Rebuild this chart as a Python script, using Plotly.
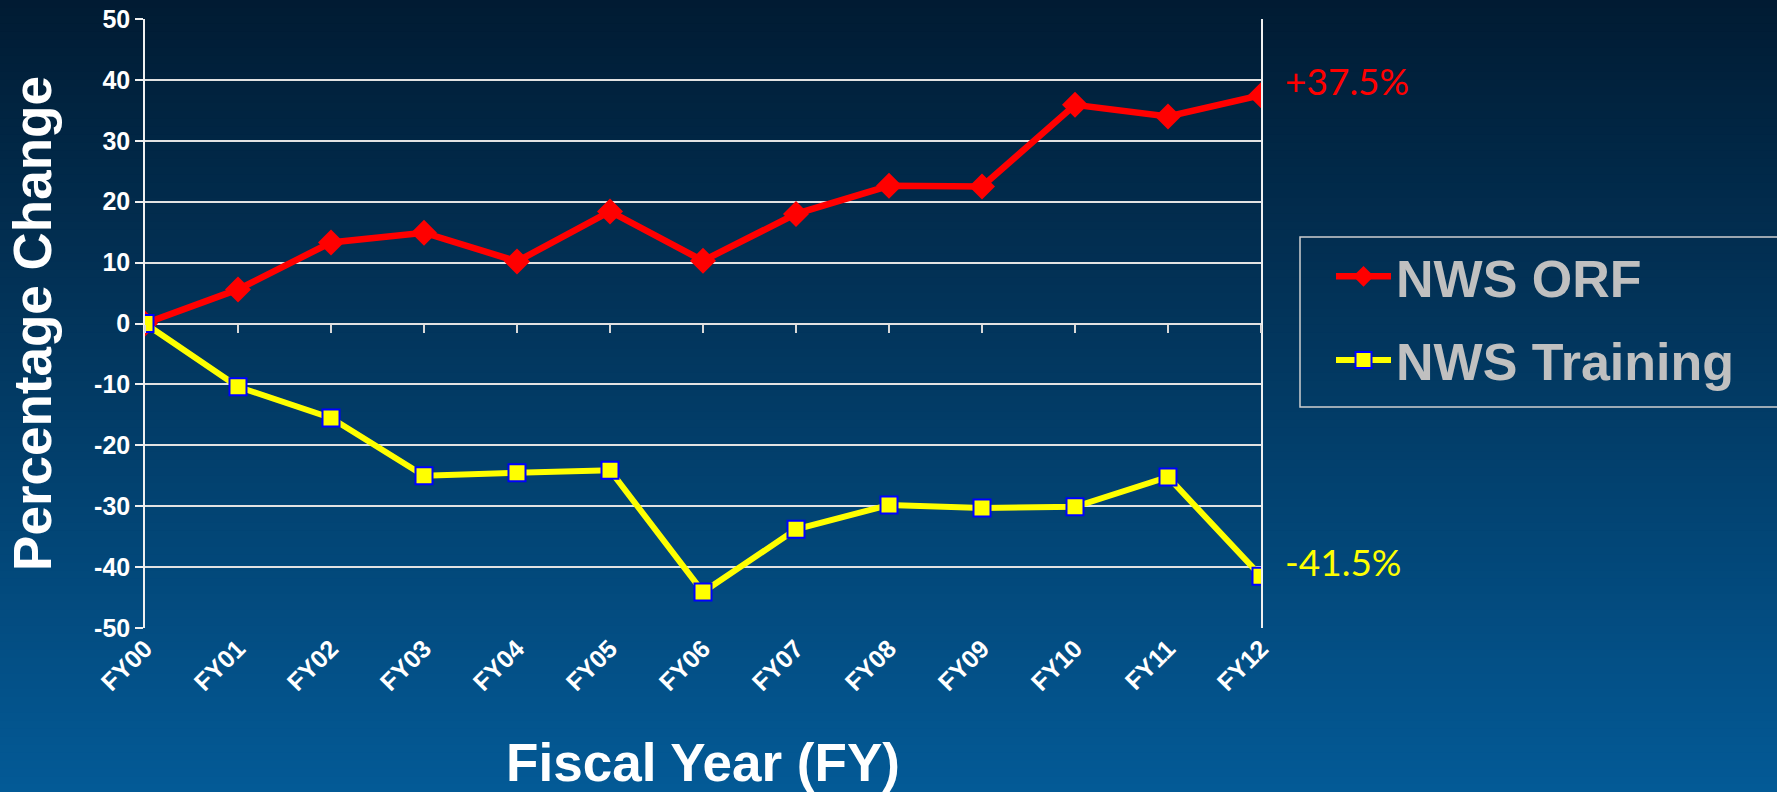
import plotly.graph_objects as go

# ---- data ----
fiscal_years = ["FY00", "FY01", "FY02", "FY03", "FY04", "FY05", "FY06",
                "FY07", "FY08", "FY09", "FY10", "FY11", "FY12"]
nws_orf = [0, 5.6, 13.3, 14.9, 10.2, 18.4, 10.3, 18.0, 22.6, 22.5, 35.9, 34.0, 37.5]
nws_training = [0, -10.4, -15.5, -25.0, -24.5, -24.1, -44.1, -33.8, -29.8, -30.3, -30.1, -25.2, -41.5]
y_ticks = [50, 40, 30, 20, 10, 0, -10, -20, -30, -40, -50]
series_names = ["NWS ORF", "NWS Training"]
end_labels = ["+37.5%", "-41.5%"]

W, H = 1777, 792
ML, MR, MT, MB = 145, W - 1261, 19, H - 628
PW, PH = W - ML - MR, H - MT - MB


def px_x(p):
    return (p - ML) / PW


def px_y(p):
    return (H - MB - p) / PH


fig = go.Figure()

fig.add_trace(go.Scatter(
    x=fiscal_years, y=nws_orf, name=series_names[0], mode="lines+markers",
    legendgroup="a",
    line=dict(color="#ff0000", width=6.5),
    marker=dict(symbol="diamond", size=20, color="#ff0000", line=dict(width=0)),
    xaxis="x", yaxis="y",
))
fig.add_trace(go.Scatter(
    x=fiscal_years, y=nws_training, name=series_names[1], mode="lines+markers",
    legendgroup="b",
    line=dict(color="#ffff00", width=6),
    marker=dict(symbol="square", size=17, color="#ffff00", line=dict(width=2, color="#0000ff")),
    xaxis="x2", yaxis="y",
))

# ---- background gradient (figure-wide) ----
top = (1, 27, 51)
bot = (3, 90, 150)
n = 100
shapes = []
for i in range(n):
    f0 = i / n
    f1 = (i + 1) / n
    py0 = f0 * H
    py1 = f1 * H + 1
    c = tuple(round(top[k] + (bot[k] - top[k]) * (f0 + 0.5 / n)) for k in range(3))
    shapes.append(dict(
        type="rect", xref="paper", yref="paper", layer="below",
        x0=px_x(-5), x1=px_x(W + 5),
        y0=px_y(py1), y1=px_y(py0),
        fillcolor="rgb(%d,%d,%d)" % c, line=dict(width=0),
    ))

# legend frame
shapes.append(dict(
    type="rect", xref="paper", yref="paper", layer="below",
    x0=px_x(1300), x1=px_x(W + 20), y0=px_y(407), y1=px_y(237),
    fillcolor="rgba(0,0,0,0)", line=dict(width=1.5, color="#d0d0d0"),
))

fig.update_layout(
    width=W, height=H,
    margin=dict(l=ML, r=MR, t=MT, b=MB, autoexpand=False),
    paper_bgcolor="#021d36",
    plot_bgcolor="rgba(0,0,0,0)",
    shapes=shapes,
    font=dict(family="Liberation Sans, Arial, sans-serif", color="white"),
    showlegend=True,
    legend=dict(
        x=px_x(1331), y=px_y(236), xanchor="left", yanchor="top",
        bgcolor="rgba(0,0,0,0)", borderwidth=0,
        font=dict(family="Liberation Sans, Arial, sans-serif", size=52, color="#c0c0c0",
                  weight="bold"),
        itemwidth=55, tracegroupgap=13, traceorder="grouped",
    ),
    xaxis=dict(
        type="category", range=[0, 12], showgrid=False, zeroline=False,
        showline=False, ticks="", tickangle=-45,
        tickfont=dict(size=25, weight="bold", color="white"),
        title=dict(text="Fiscal Year (FY)", standoff=52,
                   font=dict(size=53, weight="bold", color="white")),
        fixedrange=True,
    ),
    xaxis2=dict(
        type="category", range=[0, 12], overlaying="x", anchor="free", position=0.5,
        side="bottom", showgrid=False, zeroline=False, showline=False,
        ticks="outside", ticklen=8, tickwidth=1.5, tickcolor="#d8d8d8",
        showticklabels=False, fixedrange=True,
    ),
    yaxis=dict(
        range=[-50, 50], tickvals=y_ticks, ticktext=[str(v) for v in y_ticks],
        showgrid=True, gridcolor="#e2e2e2", gridwidth=1.5,
        zeroline=False, showline=True, linecolor="#f0f0f0", linewidth=1.5, mirror=True,
        ticks="outside", ticklen=8, tickwidth=1.5, tickcolor="#f0f0f0",
        tickfont=dict(size=25, weight="bold", color="white"),
        title=dict(text="Percentage Change", standoff=26,
                   font=dict(size=53, weight="bold", color="white")),
        fixedrange=True,
    ),
)

fig.add_annotation(x=fiscal_years[-1], y=nws_orf[-1], xref="x", yref="y",
                   text=end_labels[0], showarrow=False, xanchor="left", yanchor="middle",
                   xshift=22, yshift=15,
                   font=dict(family="Lato, sans-serif", size=37, color="#ff0000"))
fig.add_annotation(x=fiscal_years[-1], y=nws_training[-1], xref="x2", yref="y",
                   text=end_labels[1], showarrow=False, xanchor="left", yanchor="middle",
                   xshift=22, yshift=15,
                   font=dict(family="Lato, sans-serif", size=37, color="#ffff00"))

fig.write_html("out.html", config={"displayModeBar": False})
